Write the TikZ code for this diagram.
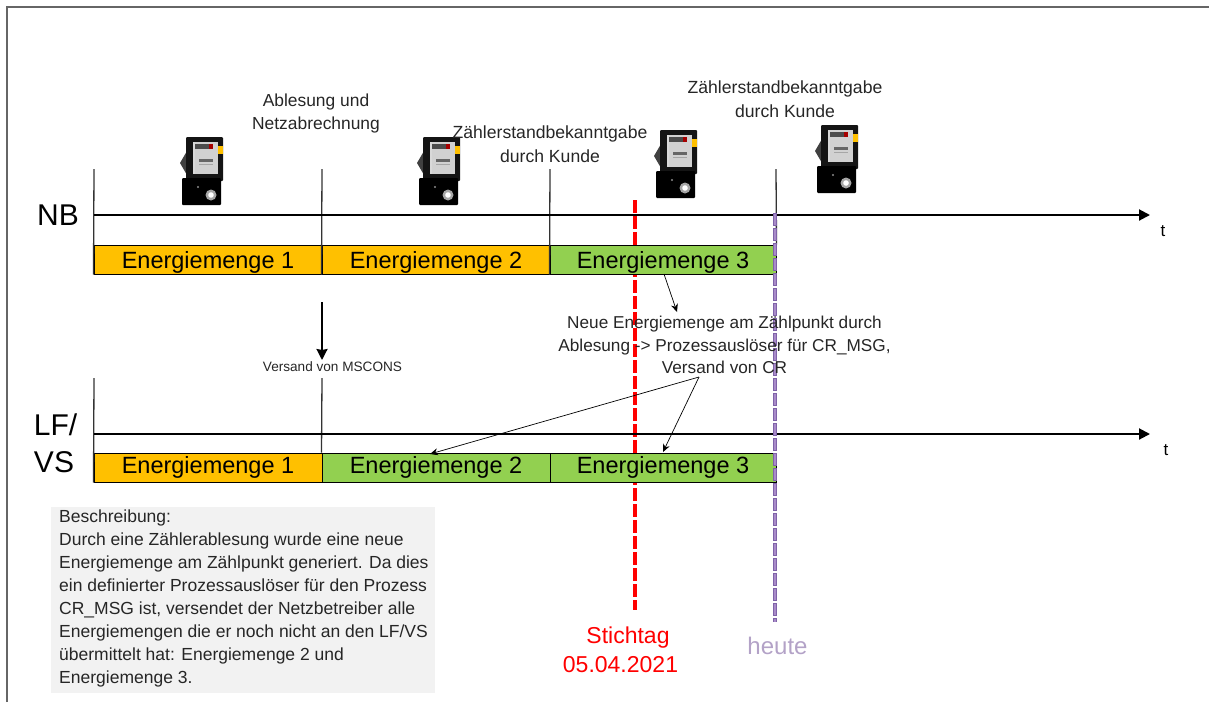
\documentclass[tikz,border=0pt]{standalone}
\usepackage{fontspec}
\setmainfont{Liberation Sans}
\usetikzlibrary{arrows.meta}
\definecolor{orangeE}{HTML}{FFC000}
\definecolor{greenE}{HTML}{92D050}
\definecolor{purpleA}{HTML}{7F63A8}
\definecolor{purpleB}{HTML}{A98BC9}
\definecolor{heuteC}{HTML}{B3A2C7}
\newcommand{\fs}[1]{\fontsize{#1}{#1}\selectfont}
\newcommand{\meterpic}[2]{%
 \begin{scope}[shift={(#1,#2)}]
  \fill[black!75] (0,28) -- (7,16) -- (7,40) -- cycle;
  \fill[black!92,rounded corners=1pt] (6,2) rectangle (43,46);
  \fill[black,rounded corners=1pt] (2,43) rectangle (41,70);
  \fill[black!18] (13,7) rectangle (38,39);
  \fill[white!85!black] (13,7) rectangle (15,39);
  \fill[black!70] (15,9) rectangle (33,14);
  \fill[red!65!black] (29,9) rectangle (33,14);
  \fill[black!60] (19,24) rectangle (33,27);
  \fill[black!35] (19,29) rectangle (33,30);
  \fill[orangeE] (38,11) rectangle (43,19);
  \fill[black!35] (31,60) circle (5.5);
  \fill[white] (31,60) circle (2.8);
  \fill[black!45] (18,52) circle (1.2);
 \end{scope}}
\tikzset{
 x=1pt,y=-1pt,
 bar/.style={draw=black,line width=1pt,minimum height=29pt,inner sep=0pt,font=\fs{23.5}},
 axis/.style={line width=2pt,-{Triangle[length=11pt,width=11pt]}},
 tick/.style={line width=1.3pt,draw=black!80},
 thinarrow/.style={line width=.7pt,-{Stealth[length=8pt,width=7pt]}},
 lab/.style={inner sep=0pt,align=center,text=black!85},
 side/.style={inner sep=0pt,font=\fs{30}},
 tlab/.style={inner sep=0pt,font=\fs{17}},
}
\newcommand{\en}[2]{\raisebox{#2}[0pt][0pt]{Energiemenge #1}}
\begin{document}
\begin{tikzpicture}
\useasboundingbox (0,0) rectangle (1209,702);
\draw[line width=2pt,draw=black!60] (6.5,702) -- (6.5,6.5) -- (1209,6.5);
% coordinates
\coordinate (nbs) at (94,215); \coordinate (nbe) at (1150,215);
\coordinate (lfs) at (94,434); \coordinate (lfe) at (1150,434);
\coordinate (t0) at (94,169); \coordinate (t1) at (322,169); \coordinate (t2) at (550,169); \coordinate (t3) at (776,169);
\coordinate (u0) at (94,378); \coordinate (u1) at (322,378);
\coordinate (redS) at (635,200); \coordinate (redE) at (635,610);
\coordinate (purS) at (775,213); \coordinate (purE) at (775,622);
% meters
\meterpic{180}{135}\meterpic{417}{135}\meterpic{654}{128}\meterpic{815}{123}
% red behind bars
\draw[red,line width=4pt,dash pattern=on 13pt off 3pt] (redS) -- (redE);
% bars
\node[bar,fill=orangeE,minimum width=228pt] (a1) at (208,259.5) {\en{1}{-8.5pt}};
\node[bar,fill=orangeE,minimum width=228pt] (a2) at (436,259.5) {\en{2}{-8.5pt}};
\node[bar,fill=greenE,minimum width=226pt] (a3) at (663,259.5) {\en{3}{-8.5pt}};
\node[bar,fill=orangeE,minimum width=228pt] (b1) at (208,467.5) {\en{1}{-6pt}};
\node[bar,fill=greenE,minimum width=228pt] (b2) at (436,467.5) {\en{2}{-6pt}};
\node[bar,fill=greenE,minimum width=226pt] (b3) at (663,467.5) {\en{3}{-6pt}};
% ticks
\draw[tick] (t0) -- (a1.south west);
\draw[tick] (t1) -- (a2.south west);
\draw[tick] (t2) -- (a3.south west);
\draw[tick] (t3) -- (a3.north east);
\draw[tick] (u0) -- (b1.south west);
\draw[tick] (u1) -- (b2.north west);
% axes
\draw[axis] (nbs) -- (nbe);
\draw[axis] (lfs) -- (lfe);
% purple
\draw[purpleA,line width=4.4pt,dash pattern=on 13pt off 2pt] (purS) -- (purE);
\draw[purpleB,line width=2.6pt,dash pattern=on 11.6pt off 3.4pt,dash phase=-0.7pt] (purS) -- (purE);
% side labels
\node[side] (nb) at (58,215) {NB};
\node[side] (lf) at (55.5,425) {LF/};
\node[side] (vs) at (54,462) {VS};
\node[tlab] (t-a) at (1163,231) {t};
\node[tlab] (t-b) at (1166,450) {t};
% top labels
\node[lab,font=\fs{17.4}] (l1) at (316,113.5) {Ablesung und\\[6pt]Netzabrechnung};
\node[lab,font=\fs{17.6}] (l2) at (550,144) {Zählerstandbekanntgabe\\[6pt]durch Kunde};
\node[lab,font=\fs{17.6}] (l3) at (785,99) {Zählerstandbekanntgabe\\[6pt]durch Kunde};
% middle
\coordinate (msS) at (322,302); \coordinate (msE) at (322,360);
\draw[line width=2pt,-{Stealth[length=11pt,width=11pt,inset=1pt]}] (msS) -- (msE);
\node[inner sep=0pt,font=\fs{13.6},text=black!85] (ms) at (332.5,366.5) {Versand von MSCONS};
\node[lab,font=\fs{17.2}] (neu) at (724.5,345) {Neue Energiemenge am Zählpunkt durch\\[5.5pt]Ablesung -> Prozessauslöser für CR\_MSG,\\[5.5pt]Versand von CR};
\coordinate (nA) at (664,274); \coordinate (nB) at (677,312);
\coordinate (vA) at (699,377); \coordinate (vB) at (663,452); \coordinate (vC) at (430,454);
\draw[thinarrow] (nA) -- (nB);
\draw[thinarrow] (vA) -- (vB);
\draw[thinarrow] (vA) -- (vC);
% description
\node[fill=black!5,minimum width=384pt,minimum height=186pt,anchor=north west,inner sep=0pt] (box) at (51,507) {};
\node[anchor=north west,inner sep=0pt,align=left,font=\fontsize{17.5}{23}\selectfont,text=black!85] (desc) at (59,510) {Beschreibung:\\
Durch eine Zählerablesung wurde eine neue\\
Energiemenge am Zählpunkt generiert. Da dies\\
ein definierter Prozessauslöser für den Prozess\\
CR\_MSG ist, versendet der Netzbetreiber alle\\
Energiemengen die er noch nicht an den LF/VS\\
übermittelt hat: Energiemenge 2 und\\
Energiemenge 3.};
% dates
\node[inner sep=0pt,text=red,font=\fs{23}] (st) at (628,638) {Stichtag};
\node[inner sep=0pt,text=red,font=\fs{23}] (dt) at (620.5,665) {05.04.2021};
\node[inner sep=0pt,text=heuteC,font=\fs{24}] (he) at (777.5,646) {heute};
\end{tikzpicture}
\end{document}
